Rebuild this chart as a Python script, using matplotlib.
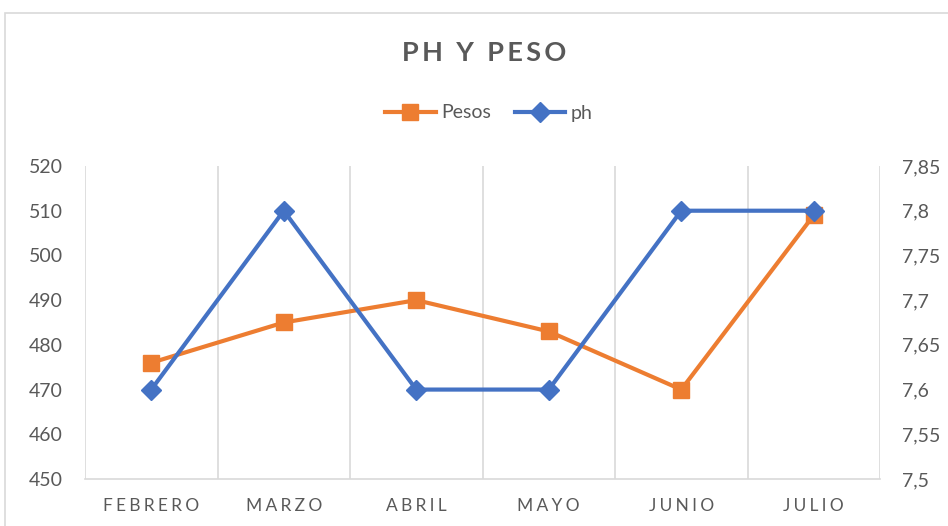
import matplotlib.pyplot as plt
from matplotlib.patches import Rectangle

meses = ["FEBRERO", "MARZO", "ABRIL", "MAYO", "JUNIO", "JULIO"]
pesos = [476, 485, 490, 483, 470, 509]
ph = [7.6, 7.8, 7.6, 7.6, 7.8, 7.8]
ticks_peso = [450, 460, 470, 480, 490, 500, 510, 520]
ticks_ph = [7.5, 7.55, 7.6, 7.65, 7.7, 7.75, 7.8, 7.85]

naranja = "#ED7D31"
azul = "#4472C4"
gris = "#595959"
rejilla = "#D9D9D9"
fuente = ["Lato", "DejaVu Sans"]

plt.rcParams['font.family'] = fuente

fig = plt.figure(figsize=(9.48, 5.26), dpi=100)
fig.patches.append(Rectangle((5 / 948, -0.1), 1.2, (514 + 52) / 526, transform=fig.transFigure,
                             fill=False, edgecolor=rejilla, linewidth=1.2))

ax = fig.add_axes([85 / 948, 47 / 526, 795 / 948, 313 / 526])
x = list(range(len(meses)))

l1, = ax.plot(x, pesos, color=naranja, lw=3, marker="s", markersize=11, label="Pesos")
ax.set_ylim(450, 520)
ax.set_yticks(ticks_peso)
ax.set_xlim(-0.5, len(meses) - 0.5)
ax.set_xticks(x)
ax.set_xticklabels(["\u2009\u200a".join(m) for m in meses], color=gris, fontsize=12.5)
for b in [i + 0.5 for i in range(-1, len(meses))]:
    ax.axvline(b, color=rejilla, lw=1.2, zorder=0)
for s in ["top", "left", "right"]:
    ax.spines[s].set_visible(False)
ax.spines["bottom"].set_color(rejilla)
ax.spines["bottom"].set_linewidth(1.2)
ax.tick_params(axis="y", length=0, pad=16, labelsize=14, labelcolor=gris)
ax.tick_params(axis="x", length=0, pad=14)

ax2 = ax.twinx()
l2, = ax2.plot(x, ph, color=azul, lw=3, marker="D", markersize=10, label="ph")
ax2.set_ylim(7.5, 7.85)
ax2.set_yticks(ticks_ph)
ax2.set_yticklabels(["{:g}".format(v).replace(".", ",") for v in ticks_ph])
for s in ["top", "left", "right", "bottom"]:
    ax2.spines[s].set_visible(False)
ax2.tick_params(axis="y", length=0, pad=16, labelsize=14, labelcolor=gris)

fig.text(484 / 948, 1 - 53 / 526, "\u2009".join("PH Y PESO"), ha="center", va="center",
         fontsize=19.5, fontweight="bold", color=gris)
fig.legend([l1, l2], ["Pesos", "ph"], loc="center", bbox_to_anchor=(489 / 948, 1 - 113 / 526),
           ncol=2, frameon=False, fontsize=14, labelcolor=gris, handlelength=2.6,
           columnspacing=1.2, handletextpad=0.3)

fig.savefig("out.png", dpi=100)
